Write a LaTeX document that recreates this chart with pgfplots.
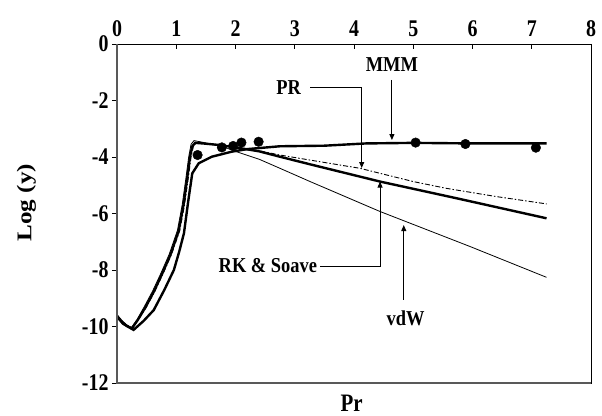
\documentclass[border=0pt]{standalone}
\usepackage{graphicx}
\usepackage{pgfplots}
\pgfplotsset{compat=1.18}
\usepackage{fontspec}
\setmainfont{Liberation Serif}
\usetikzlibrary{arrows.meta}
\begin{document}
\begin{tikzpicture}
\begin{axis}[
  at={(0,0)}, anchor=south west,
  scale only axis, width=474bp, height=339bp,
  xmin=0, xmax=8, ymin=-12, ymax=0,
  xtick={0,1,...,8}, ytick={-12,-10,...,0},
  xtick pos=right, xticklabel pos=right, ytick pos=left,
  xtick align=inside, ytick align=outside,
  major tick length=5bp,
  tick style={black, line width=0.6pt},
  axis line style={line width=0.8pt},
  /pgf/number format/assume math mode=true,
  xticklabel={\scalebox{1}[1.2]{\bfseries\pgfmathprintnumber{\tick}}},
  yticklabel={\scalebox{1}[1.2]{\bfseries\pgfmathprintnumber{\tick}}},
  xticklabel style={font=\fontsize{20}{22}\selectfont\bfseries, yshift=4bp},
  yticklabel style={font=\fontsize{20}{22}\selectfont\bfseries},
  xlabel={\scalebox{1}[1.2]{Pr}}, ylabel={\scalebox{1.2}[1]{Log (y)}},
  label style={font=\fontsize{21}{24}\selectfont\bfseries},
  xlabel style={at={(axis description cs:0.495,0)}, anchor=center, yshift=-20bp},
  ylabel style={at={(axis description cs:-0.191,0.532)}, anchor=center},
  clip=false,
]
% vdW (thin)
\addplot[black, line width=0.8bp] coordinates {
(0,-9.6) (0.08,-9.8) (0.16,-9.95) (0.24,-10.05) (0.34,-9.75) (0.46,-9.3) (0.6,-8.75) (0.74,-8.12) (0.88,-7.45) (1.02,-6.6) (1.1,-5.7) (1.16,-4.8) (1.21,-4.0) (1.25,-3.55) (1.3,-3.42) (1.45,-3.48) (1.7,-3.6) (1.85,-3.68) (2.0,-3.8) (2.4,-4.08) (2.75,-4.40) (3.26,-4.87) (4.44,-5.93) (5.96,-7.17) (7.25,-8.26)};
% PR (dash-dot)
\addplot[black, line width=0.9bp, dash pattern=on 5bp off 2bp on 1.5bp off 2bp] coordinates {
(0,-9.6) (0.08,-9.8) (0.16,-9.95) (0.26,-10.05) (0.36,-9.75) (0.5,-9.3) (0.64,-8.75) (0.78,-8.12) (0.92,-7.45) (1.06,-6.6) (1.14,-5.7) (1.2,-4.8) (1.25,-4.0) (1.29,-3.62) (1.34,-3.5) (1.5,-3.52) (1.8,-3.6) (2.0,-3.66) (2.4,-3.78) (2.75,-3.93) (3.26,-4.11) (4.1,-4.4) (5.0,-4.87) (5.56,-5.11) (6.4,-5.4) (7.25,-5.66)};
% RK & Soave (thick)
\addplot[black, line width=2.4bp] coordinates {
(0,-9.62) (0.08,-9.82) (0.16,-9.97) (0.25,-10.07) (0.35,-9.77) (0.48,-9.32) (0.62,-8.77) (0.76,-8.14) (0.9,-7.47) (1.04,-6.62) (1.12,-5.72) (1.18,-4.82) (1.23,-4.02) (1.27,-3.62) (1.32,-3.5) (1.45,-3.52) (1.7,-3.57) (2.0,-3.66) (2.4,-3.8) (2.75,-3.99) (3.26,-4.26) (4.44,-4.87) (5.73,-5.46) (7.25,-6.17)};
% MMM (thick)
\addplot[black, line width=2.4bp] coordinates {
(0,-9.65) (0.1,-9.9) (0.28,-10.12) (0.45,-9.8) (0.62,-9.42) (0.8,-8.7) (0.96,-8.0) (1.05,-7.35) (1.13,-6.7) (1.2,-5.6) (1.27,-4.58) (1.38,-4.22) (1.6,-3.99) (1.94,-3.81) (2.2,-3.72) (2.75,-3.62) (3.5,-3.6) (4.2,-3.52) (5,-3.5) (6,-3.52) (7.25,-3.52)};
% data points
\addplot[only marks, mark=*, mark size=4.8bp, black] coordinates {
(1.36,-3.93) (1.77,-3.66) (1.96,-3.61) (2.10,-3.49) (2.39,-3.46) (5.04,-3.49) (5.88,-3.54) (7.07,-3.67)};
% annotations
\tikzset{lbl/.style={font=\fontsize{18.5}{20}\selectfont\bfseries, inner sep=0pt}}
\draw[line width=0.9bp, -{Triangle[length=6bp,width=5bp]}] (axis cs:3.26,-1.53) -| (axis cs:4.13,-4.39);
\node[lbl, anchor=east] at ([xshift=-9bp]axis cs:3.26,-1.53) {\scalebox{1}[1.15]{PR}};
\node[lbl] at (axis cs:4.64,-0.74) {\scalebox{1}[1.15]{MMM}};
\draw[line width=0.9bp, -{Triangle[length=6bp,width=5bp]}] (axis cs:4.64,-1.27) -- (axis cs:4.64,-3.40);
\draw[line width=0.9bp, -{Triangle[length=6bp,width=5bp]}] (axis cs:3.43,-7.86) -| (axis cs:4.44,-4.87);
\node[lbl, anchor=east] at ([xshift=-3bp]axis cs:3.43,-7.86) {\scalebox{1}[1.15]{RK \& Soave}};
\draw[line width=0.9bp, -{Triangle[length=6bp,width=5bp]}] (axis cs:4.84,-9.06) -- (axis cs:4.84,-6.41);
\node[lbl] at (axis cs:4.87,-9.70) {\scalebox{1}[1.15]{vdW}};
\draw[gray!70!black, line width=1.2bp] (rel axis cs:0,1) -- (rel axis cs:0,0) -- (rel axis cs:1,0);
\end{axis}
\pgfresetboundingbox
\path[use as bounding box] (-117bp,-33bp) rectangle (485bp,383bp);
\end{tikzpicture}
\end{document}
